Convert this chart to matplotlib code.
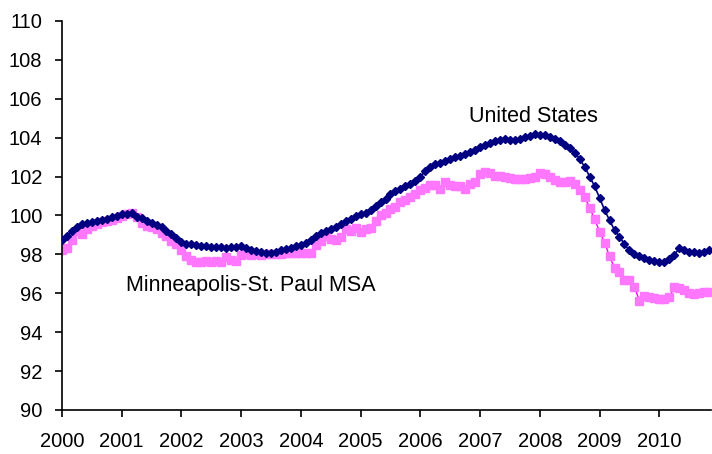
import numpy as np
import matplotlib
matplotlib.use('Agg')
import matplotlib.pyplot as plt

plt.rcParams['font.family'] = ['Liberation Sans', 'DejaVu Sans']

# monthly index values, Jan 2000 - Nov 2010
us = [
    98.72, 98.95, 99.2, 99.42, 99.55, 99.6, 99.65, 99.73, 99.78, 99.83, 99.9, 99.98,          # 2000
    100.05, 100.08, 100.1, 99.93, 99.85, 99.72, 99.62, 99.5, 99.4, 99.22, 99.05, 98.85,       # 2001
    98.65, 98.55, 98.52, 98.47, 98.45, 98.42, 98.4, 98.38, 98.36, 98.35, 98.37, 98.36,        # 2002
    98.42, 98.35, 98.22, 98.15, 98.1, 98.08, 98.08, 98.12, 98.2, 98.25, 98.33, 98.42,         # 2003
    98.5, 98.58, 98.72, 98.95, 99.12, 99.22, 99.28, 99.4, 99.57, 99.72, 99.83, 99.95,         # 2004
    100.05, 100.15, 100.28, 100.5, 100.68, 100.86, 101.08, 101.27, 101.38, 101.52, 101.63, 101.78,  # 2005
    102.0, 102.27, 102.5, 102.62, 102.68, 102.8, 102.9, 103.0, 103.08, 103.17, 103.27, 103.38,      # 2006
    103.5, 103.6, 103.7, 103.8, 103.88, 103.92, 103.9, 103.88, 103.94, 104.03, 104.1, 104.16,       # 2007
    104.15, 104.12, 104.05, 103.95, 103.8, 103.6, 103.45, 103.22, 102.9, 102.5, 102.0, 101.5,       # 2008
    100.9, 100.28, 99.75, 99.25, 98.9, 98.52, 98.2, 98.03, 97.9, 97.8, 97.73, 97.68,                # 2009
    97.63, 97.63, 97.75, 97.98, 98.3, 98.2, 98.12, 98.1, 98.06, 98.14, 98.22,                       # 2010
]
msa = [
    98.2, 98.35, 98.75, 99.2, 99.05, 99.3, 99.45, 99.57, 99.65, 99.72, 99.78, 99.85,
    99.97, 100.06, 100.1, 99.9, 99.62, 99.48, 99.4, 99.3, 99.12, 98.95, 98.7, 98.52,
    98.2, 97.9, 97.72, 97.62, 97.63, 97.68, 97.63, 97.68, 97.6, 97.85, 97.72, 97.68,
    97.95, 98.0, 97.97, 98.0, 97.98, 98.03, 98.03, 98.0, 98.0, 98.05, 98.05, 98.08,
    98.08, 98.05, 98.05, 98.5, 98.7, 98.95, 98.78, 98.75, 98.88, 99.3, 99.22, 99.35,
    99.15, 99.3, 99.35, 99.72, 100.02, 100.1, 100.32, 100.45, 100.68, 100.8, 100.95, 101.12,
    101.3, 101.4, 101.55, 101.55, 101.38, 101.7, 101.55, 101.5, 101.5, 101.38, 101.62, 101.72,
    102.12, 102.22, 102.18, 102.02, 102.05, 102.0, 101.94, 101.85, 101.88, 101.88, 101.93, 102.0,
    102.18, 102.12, 101.98, 101.8, 101.72, 101.72, 101.75, 101.6, 101.3, 100.95, 100.4, 99.8,
    99.17, 98.6, 97.9, 97.3, 97.1, 96.7, 96.68, 96.32, 95.62, 95.85, 95.8, 95.75,
    95.68, 95.72, 95.8, 96.3, 96.28, 96.15, 96.0, 95.98, 96.0, 96.08, 96.08,
]
years = list(range(2000, 2011))
t = 2000 + np.arange(len(us)) / 12.0

fig = plt.figure(figsize=(7.12, 4.54), dpi=100)
ax = fig.add_axes([0.087, 0.097, 0.912, 0.857])

ax.plot(t, msa, color='#FF00FF', lw=1.0, marker='s', ms=5.5,
        mfc='#FF77FF', mec='#FF77FF', zorder=2)
ax.plot(t, us, color='#000080', lw=1.2, marker='D', ms=4,
        mfc='#000080', mec='#000080', zorder=3)

ax.text(2006.82, 105.1, 'United States', fontsize=15.5, va='center', ha='left')
ax.text(2001.07, 96.4, 'Minneapolis-St. Paul MSA', fontsize=15.5, va='center', ha='left')

ax.set_xlim(2000, 2010.87)
ax.set_ylim(90, 110)
ax.set_yticks(range(90, 111, 2))
ax.set_xticks(years)
ax.set_xticklabels([str(y) for y in years])

for s in ['top', 'right']:
    ax.spines[s].set_visible(False)
for s in ['left', 'bottom']:
    ax.spines[s].set_linewidth(1.2)
ax.tick_params(axis='both', direction='out', length=5, width=1.2, labelsize=14.5)
ax.tick_params(axis='x', pad=11)
ax.tick_params(axis='y', pad=9)

fig.savefig('out.png', dpi=100)
